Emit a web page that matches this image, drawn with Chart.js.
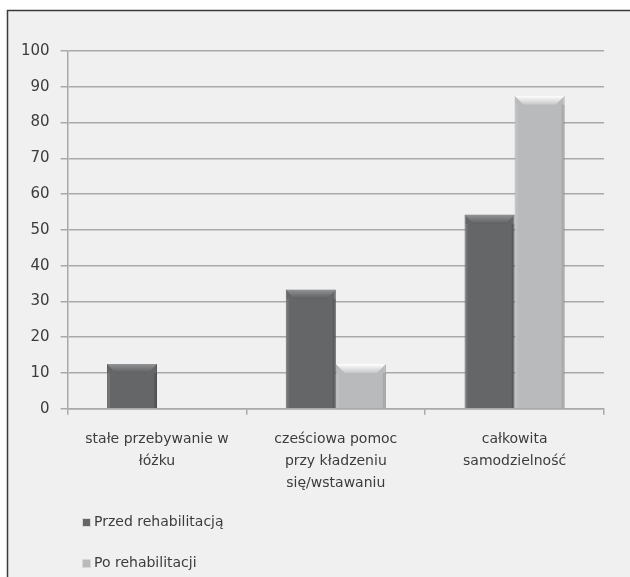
<!DOCTYPE html>
<html>
<head>
<meta charset="utf-8">
<script src="https://cdn.jsdelivr.net/npm/chart.js@4/dist/chart.umd.min.js"></script>
<style>
  html, body { margin: 0; padding: 0; background: #ffffff; }
  #wrap { width: 630px; height: 577px; position: relative; }
</style>
</head>
<body>
<div id="wrap"><canvas id="c" width="630" height="577"></canvas></div>
<script>
// Categories (wrapped onto several lines)
const categories = [
  ["stałe przebywanie w", "łóżku"],
  ["cześciowa pomoc", "przy kładzeniu", "się/wstawaniu"],
  ["całkowita", "samodzielność"]
];
const seriesNames = ["Przed rehabilitacją", "Po rehabilitacji"];
const beforeValues = [12.5, 33.3, 54.2];
const afterValues = [0, 12.5, 87.5];
const yTicks = [0, 10, 20, 30, 40, 50, 60, 70, 80, 90, 100];

const FONT = "'DejaVu Sans', Verdana, sans-serif";
const TEXT = '#3c3c3c';
const GRID = '#a9a9a9';
const DARK = '#656667';
const LIGHT = '#b9babb';

// Framed panel behind the chart
const framePlugin = {
  id: 'frame',
  beforeDraw(chart) {
    const ctx = chart.ctx;
    ctx.save();
    ctx.fillStyle = '#ffffff';
    ctx.fillRect(0, 0, chart.width, chart.height);
    ctx.fillStyle = '#f0f0f0';
    ctx.fillRect(8, 11, chart.width, chart.height);
    ctx.strokeStyle = '#3a3a3a';
    ctx.lineWidth = 1.5;
    ctx.beginPath();
    ctx.moveTo(7.5, chart.height + 2);
    ctx.lineTo(7.5, 10.5);
    ctx.lineTo(chart.width + 2, 10.5);
    ctx.stroke();
    ctx.restore();
  }
};

// Bevelled top edge on each bar
const bevelPlugin = {
  id: 'bevel',
  afterDatasetsDraw(chart) {
    const ctx = chart.ctx;
    chart.data.datasets.forEach((ds, di) => {
      const meta = chart.getDatasetMeta(di);
      meta.data.forEach((bar) => {
        const h = bar.base - bar.y;
        if (h < 2) return;
        const left = bar.x - bar.width / 2;
        const right = bar.x + bar.width / 2;
        const b = Math.min(9, h / 2);
        ctx.save();
        // top facet
        const g = ctx.createLinearGradient(0, bar.y, 0, bar.y + b);
        if (di === 0) {
          g.addColorStop(0, '#929394');
          g.addColorStop(1, '#5e5f60');
        } else {
          g.addColorStop(0, '#ffffff');
          g.addColorStop(1, '#c6c7c8');
        }
        ctx.fillStyle = g;
        ctx.beginPath();
        ctx.moveTo(left, bar.y);
        ctx.lineTo(right, bar.y);
        ctx.lineTo(right - b, bar.y + b);
        ctx.lineTo(left + b, bar.y + b);
        ctx.closePath();
        ctx.fill();
        // side edges
        ctx.fillStyle = di === 0 ? 'rgba(0,0,0,0.12)' : 'rgba(0,0,0,0.10)';
        ctx.fillRect(right - 3, bar.y + b, 3, h - b);
        ctx.fillStyle = 'rgba(255,255,255,0.10)';
        ctx.fillRect(left, bar.y + b, 3, h - b);
        ctx.restore();
      });
    });
  }
};

// Vertical legend under the axis labels
const legendPlugin = {
  id: 'stackedLegend',
  afterDraw(chart) {
    const ctx = chart.ctx;
    const x = 82;
    const ys = [522, 563];
    ctx.save();
    ctx.font = '14px ' + FONT;
    ctx.textBaseline = 'middle';
    chart.data.datasets.forEach((ds, i) => {
      const y = ys[i];
      ctx.fillStyle = ds.backgroundColor;
      ctx.fillRect(x, y - 4, 9, 9);
      ctx.strokeStyle = '#d8d8d8';
      ctx.lineWidth = 1;
      ctx.strokeRect(x + 0.5, y - 3.5, 8, 8);
      ctx.fillStyle = TEXT;
      ctx.fillText(ds.label, x + 12, y);
    });
    ctx.restore();
  }
};

new Chart(document.getElementById('c'), {
  type: 'bar',
  data: {
    labels: categories,
    datasets: [
      { label: seriesNames[0], data: beforeValues, backgroundColor: DARK, borderColor: '#58595a', borderWidth: 1 },
      { label: seriesNames[1], data: afterValues, backgroundColor: LIGHT, borderColor: '#a4a5a6', borderWidth: 1 }
    ]
  },
  options: {
    responsive: false,
    animation: false,
    devicePixelRatio: 1,
    layout: { padding: { left: 10, right: 26, top: 51, bottom: 69 } },
    datasets: { bar: { categoryPercentage: 0.56, barPercentage: 1.0 } },
    plugins: {
      legend: { display: false },
      tooltip: { enabled: false }
    },
    scales: {
      x: {
        offset: true,
        grid: { display: true, drawOnChartArea: false, drawTicks: true, tickLength: 6, color: GRID, lineWidth: 1.5, offset: true },
        border: { display: true, color: GRID, width: 1.5 },
        ticks: { color: TEXT, font: { family: FONT, size: 14, lineHeight: 1.6 }, padding: 13, maxRotation: 0, autoSkip: false }
      },
      y: {
        min: 0,
        max: 100,
        afterBuildTicks(axis) { axis.ticks = yTicks.map(v => ({ value: v })); },
        grid: { color: GRID, lineWidth: 1.5, tickLength: 7 },
        border: { display: true, color: GRID, width: 1.5 },
        ticks: { color: TEXT, font: { family: FONT, size: 15 }, padding: 11 }
      }
    }
  },
  plugins: [framePlugin, bevelPlugin, legendPlugin]
});
</script>
</body>
</html>
